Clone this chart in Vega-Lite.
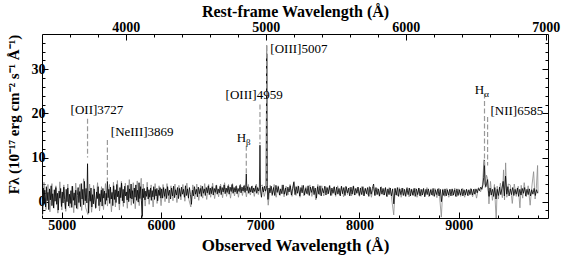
{
"$schema":"https://vega.github.io/schema/vega-lite/v6.json",
"width":506,"height":184,
"autosize":"none",
"padding":{"left":42,"top":34,"right":18,"bottom":39},
"config":{
 "view":{"stroke":"black","strokeWidth":1},
 "font":"Liberation Serif",
 "axis":{"domain":false,"grid":false,"tickColor":"black","tickWidth":1,"labelFont":"Liberation Serif","labelFontSize":14,"labelFontWeight":"bold","labelColor":"black","titleFont":"Liberation Serif","titleFontSize":17,"titleFontWeight":"bold","titleColor":"black","tickSize":-6,"labelPadding":3}
},
"datasets":{
"black":[
{"w":4800,"f":5.8},{"w":4806,"f":-2.8},{"w":4812,"f":3.1},{"w":4820,"f":-0.5},{"w":4828,"f":2.6},{"w":4836,"f":-1.2},{"w":4844,"f":3.4},{"w":4852,"f":0.2},{"w":4860,"f":2.1},{"w":4868,"f":-1.8},{"w":4876,"f":2.9},{"w":4884,"f":0.4},{"w":4892,"f":3.6},{"w":4900,"f":-0.9},{"w":4908,"f":1.8},{"w":4916,"f":-1.4},{"w":4924,"f":2.7},{"w":4932,"f":0.1},{"w":4940,"f":3.2},{"w":4948,"f":-0.6},{"w":4956,"f":1.9},{"w":4964,"f":-1.9},{"w":4972,"f":2.4},{"w":4980,"f":0.8},{"w":4988,"f":3.0},{"w":4996,"f":-1.1},
{"w":5004,"f":2.2},{"w":5012,"f":-0.3},{"w":5020,"f":3.3},{"w":5028,"f":0.5},{"w":5036,"f":-1.6},{"w":5044,"f":2.8},{"w":5052,"f":0.0},{"w":5060,"f":3.1},{"w":5068,"f":-1.0},{"w":5076,"f":1.7},{"w":5084,"f":-0.4},{"w":5092,"f":2.5},{"w":5100,"f":-1.3},{"w":5108,"f":3.5},{"w":5116,"f":0.3},{"w":5124,"f":2.0},{"w":5132,"f":-0.8},{"w":5140,"f":2.6},{"w":5148,"f":-1.5},{"w":5156,"f":1.4},{"w":5164,"f":3.2},{"w":5172,"f":-0.2},{"w":5180,"f":2.3},{"w":5188,"f":-1.1},{"w":5196,"f":4.1},{"w":5204,"f":0.6},{"w":5212,"f":2.8},{"w":5220,"f":-0.7},{"w":5228,"f":4.6},{"w":5236,"f":0.2},{"w":5244,"f":3.0},{"w":5252,"f":-0.3},{"w":5259,"f":8.6},{"w":5264,"f":1.0},{"w":5270,"f":-2.6},{"w":5278,"f":2.4},{"w":5286,"f":0.1},{"w":5294,"f":3.1},
{"w":5302,"f":-1.2},{"w":5310,"f":1.6},{"w":5318,"f":-0.5},{"w":5326,"f":2.9},{"w":5334,"f":0.4},{"w":5342,"f":-1.4},{"w":5350,"f":2.2},{"w":5358,"f":0.7},{"w":5366,"f":3.4},{"w":5374,"f":-0.9},{"w":5382,"f":1.8},{"w":5390,"f":0.0},{"w":5398,"f":2.6},{"w":5406,"f":-1.0},{"w":5414,"f":3.0},{"w":5422,"f":0.8},{"w":5430,"f":2.4},{"w":5438,"f":-0.6},{"w":5446,"f":1.9},{"w":5452,"f":0.3},{"w":5459,"f":4.6},{"w":5466,"f":0.9},{"w":5474,"f":2.8},{"w":5482,"f":-0.4},{"w":5490,"f":3.3},{"w":5498,"f":0.6},
{"w":5506,"f":2.1},{"w":5514,"f":-0.9},{"w":5522,"f":3.6},{"w":5530,"f":0.5},{"w":5538,"f":2.7},{"w":5546,"f":-0.2},{"w":5554,"f":3.9},{"w":5562,"f":1.1},{"w":5570,"f":2.4},{"w":5578,"f":-0.5},{"w":5586,"f":3.2},{"w":5594,"f":0.9},{"w":5602,"f":4.2},{"w":5610,"f":0.2},{"w":5618,"f":2.8},{"w":5626,"f":-0.3},{"w":5634,"f":3.5},{"w":5642,"f":1.3},{"w":5650,"f":2.2},{"w":5658,"f":0.4},{"w":5666,"f":3.7},{"w":5674,"f":0.0},{"w":5682,"f":2.9},{"w":5690,"f":0.8},{"w":5698,"f":4.0},
{"w":5706,"f":0.6},{"w":5714,"f":2.5},{"w":5722,"f":-0.4},{"w":5730,"f":3.1},{"w":5738,"f":1.0},{"w":5746,"f":3.8},{"w":5754,"f":0.3},{"w":5762,"f":2.6},{"w":5770,"f":-0.1},{"w":5778,"f":4.3},{"w":5786,"f":0.7},{"w":5794,"f":3.4},{"w":5802,"f":0.2},{"w":5810,"f":-3.3},{"w":5814,"f":2.9},{"w":5822,"f":0.9},{"w":5830,"f":3.0},{"w":5838,"f":0.4},{"w":5846,"f":2.4},{"w":5854,"f":1.2},{"w":5862,"f":3.3},{"w":5870,"f":0.6},{"w":5878,"f":2.7},{"w":5886,"f":1.0},{"w":5894,"f":3.1},
{"w":5902,"f":0.3},{"w":5910,"f":2.5},{"w":5918,"f":1.1},{"w":5926,"f":3.4},{"w":5934,"f":0.5},{"w":5942,"f":2.8},{"w":5950,"f":1.3},{"w":5958,"f":3.0},{"w":5966,"f":0.2},{"w":5974,"f":2.6},{"w":5982,"f":1.4},{"w":5990,"f":3.2},{"w":5998,"f":0.8},
{"w":6006,"f":2.9},{"w":6016,"f":0.8},{"w":6026,"f":3.2},{"w":6036,"f":1.2},{"w":6046,"f":2.9},{"w":6056,"f":0.7},{"w":6066,"f":3.4},{"w":6076,"f":1.4},{"w":6086,"f":2.6},{"w":6096,"f":0.6},{"w":6106,"f":3.1},{"w":6116,"f":1.3},{"w":6126,"f":3.5},{"w":6136,"f":0.9},{"w":6146,"f":2.7},{"w":6156,"f":1.5},{"w":6166,"f":3.2},{"w":6176,"f":0.7},{"w":6186,"f":3.0},{"w":6196,"f":1.2},{"w":6206,"f":3.3},{"w":6216,"f":1.7},{"w":6226,"f":2.8},{"w":6236,"f":1.0},{"w":6246,"f":3.6},{"w":6256,"f":1.4},{"w":6266,"f":2.9},{"w":6276,"f":0.8},{"w":6286,"f":3.2},{"w":6296,"f":1.6},
{"w":6306,"f":-0.6},{"w":6316,"f":2.6},{"w":6326,"f":1.3},{"w":6336,"f":3.4},{"w":6346,"f":1.7},{"w":6356,"f":2.8},{"w":6366,"f":1.1},{"w":6376,"f":3.3},{"w":6386,"f":1.8},{"w":6396,"f":3.0},{"w":6406,"f":1.2},{"w":6416,"f":3.5},{"w":6426,"f":1.9},{"w":6436,"f":2.9},{"w":6446,"f":1.4},{"w":6456,"f":3.2},{"w":6466,"f":2.0},{"w":6476,"f":3.6},{"w":6486,"f":1.6},{"w":6496,"f":3.1},
{"w":6506,"f":1.8},{"w":6516,"f":3.4},{"w":6526,"f":1.5},{"w":6536,"f":3.0},{"w":6546,"f":2.1},{"w":6556,"f":3.7},{"w":6566,"f":1.7},{"w":6576,"f":2.9},{"w":6586,"f":2.0},{"w":6596,"f":3.5},{"w":6606,"f":1.6},{"w":6616,"f":3.2},{"w":6626,"f":2.2},{"w":6636,"f":3.8},{"w":6646,"f":1.8},{"w":6656,"f":3.1},{"w":6666,"f":2.1},{"w":6676,"f":3.6},{"w":6686,"f":1.7},{"w":6696,"f":3.3},
{"w":6706,"f":2.3},{"w":6716,"f":3.9},{"w":6726,"f":1.9},{"w":6736,"f":3.2},{"w":6746,"f":2.2},{"w":6756,"f":3.5},{"w":6766,"f":1.8},{"w":6776,"f":3.0},{"w":6786,"f":2.3},{"w":6796,"f":3.7},{"w":6806,"f":2.0},{"w":6816,"f":3.3},{"w":6826,"f":2.4},{"w":6836,"f":3.6},{"w":6846,"f":2.1},{"w":6853,"f":3.2},{"w":6859,"f":6.3},{"w":6865,"f":2.5},{"w":6874,"f":3.4},{"w":6884,"f":1.9},{"w":6894,"f":3.2},
{"w":6904,"f":2.2},{"w":6914,"f":3.5},{"w":6924,"f":2.0},{"w":6934,"f":3.1},{"w":6944,"f":2.3},{"w":6954,"f":3.6},{"w":6964,"f":1.9},{"w":6974,"f":3.2},{"w":6984,"f":2.4},{"w":6991,"f":3.2},{"w":6997,"f":12.8},{"w":7003,"f":2.4},{"w":7012,"f":1.0},{"w":7022,"f":3.3},{"w":7032,"f":2.2},{"w":7042,"f":3.5},{"w":7052,"f":2.4},{"w":7059,"f":3.0},{"w":7065,"f":33.5},{"w":7071,"f":3.2},{"w":7078,"f":0.5},{"w":7088,"f":3.1},{"w":7098,"f":2.0},
{"w":7110,"f":3.5},{"w":7122,"f":1.6},{"w":7134,"f":3.2},{"w":7146,"f":1.4},{"w":7158,"f":3.7},{"w":7170,"f":2.1},{"w":7182,"f":3.4},{"w":7194,"f":1.5},{"w":7206,"f":2.9},{"w":7218,"f":1.8},{"w":7230,"f":3.8},{"w":7242,"f":1.7},{"w":7254,"f":3.1},{"w":7266,"f":1.4},{"w":7278,"f":3.3},{"w":7290,"f":2.2},{"w":7302,"f":3.6},{"w":7314,"f":1.5},{"w":7326,"f":3.0},{"w":7338,"f":4.4},{"w":7350,"f":1.6},{"w":7362,"f":3.4},{"w":7374,"f":1.9},{"w":7386,"f":3.5},{"w":7398,"f":1.3},
{"w":7410,"f":3.2},{"w":7422,"f":2.0},{"w":7434,"f":3.7},{"w":7446,"f":1.5},{"w":7458,"f":3.0},{"w":7470,"f":1.8},{"w":7482,"f":3.6},{"w":7494,"f":1.4},{"w":7506,"f":3.3},{"w":7518,"f":2.1},{"w":7530,"f":3.5},{"w":7542,"f":1.6},{"w":7554,"f":3.1},{"w":7566,"f":0.8},{"w":7578,"f":3.4},{"w":7590,"f":1.7},{"w":7602,"f":3.6},{"w":7614,"f":1.3},{"w":7626,"f":3.0},{"w":7638,"f":2.0},{"w":7650,"f":3.5},{"w":7662,"f":1.5},{"w":7674,"f":3.2},{"w":7686,"f":1.8},{"w":7698,"f":3.6},
{"w":7710,"f":1.4},{"w":7722,"f":3.1},{"w":7734,"f":1.9},{"w":7746,"f":3.4},{"w":7758,"f":1.5},{"w":7770,"f":3.3},{"w":7782,"f":1.7},{"w":7794,"f":3.0},{"w":7806,"f":1.3},{"w":7818,"f":3.5},{"w":7830,"f":1.8},{"w":7842,"f":3.2},{"w":7854,"f":1.4},{"w":7866,"f":3.4},{"w":7878,"f":2.0},{"w":7890,"f":3.1},{"w":7902,"f":1.3},{"w":7914,"f":3.3},{"w":7926,"f":1.7},{"w":7938,"f":3.5},{"w":7950,"f":1.5},{"w":7962,"f":3.0},{"w":7974,"f":1.9},{"w":7986,"f":3.3},{"w":7998,"f":1.4},
{"w":8010,"f":3.1},{"w":8022,"f":1.6},{"w":8034,"f":3.4},{"w":8046,"f":1.3},{"w":8058,"f":3.0},{"w":8070,"f":1.8},{"w":8082,"f":3.2},{"w":8094,"f":1.2},{"w":8106,"f":3.3},{"w":8118,"f":1.7},{"w":8130,"f":3.0},{"w":8142,"f":4.0},{"w":8154,"f":1.4},{"w":8166,"f":3.2},{"w":8178,"f":1.6},{"w":8190,"f":2.9},{"w":8202,"f":1.3},{"w":8214,"f":3.3},{"w":8226,"f":1.7},{"w":8238,"f":3.0},{"w":8250,"f":1.5},{"w":8262,"f":3.2},{"w":8274,"f":1.2},{"w":8286,"f":2.9},{"w":8298,"f":1.6},
{"w":8310,"f":3.1},{"w":8322,"f":1.3},{"w":8334,"f":2.9},{"w":8346,"f":-0.5},{"w":8358,"f":3.0},{"w":8370,"f":1.5},{"w":8382,"f":3.2},{"w":8394,"f":1.2},{"w":8406,"f":2.9},{"w":8418,"f":1.6},{"w":8430,"f":3.1},{"w":8442,"f":1.4},{"w":8454,"f":2.8},{"w":8466,"f":1.2},{"w":8478,"f":3.0},{"w":8490,"f":1.6},{"w":8502,"f":3.1},{"w":8514,"f":1.3},{"w":8526,"f":2.8},{"w":8538,"f":1.5},{"w":8550,"f":3.0},{"w":8562,"f":1.2},{"w":8574,"f":2.9},{"w":8586,"f":1.6},{"w":8598,"f":3.1},
{"w":8610,"f":1.3},{"w":8622,"f":2.8},{"w":8634,"f":1.5},{"w":8646,"f":3.0},{"w":8658,"f":1.1},{"w":8670,"f":2.8},{"w":8682,"f":1.6},{"w":8694,"f":2.9},{"w":8706,"f":1.3},{"w":8718,"f":2.7},{"w":8730,"f":1.5},{"w":8742,"f":3.0},{"w":8754,"f":1.2},{"w":8766,"f":2.7},{"w":8778,"f":1.6},{"w":8790,"f":2.9},{"w":8802,"f":1.3},{"w":8814,"f":2.8},{"w":8826,"f":0.0},{"w":8838,"f":2.7},{"w":8850,"f":1.4},{"w":8862,"f":2.9},{"w":8874,"f":1.3},{"w":8886,"f":2.7},{"w":8898,"f":1.5},
{"w":8910,"f":2.8},{"w":8922,"f":1.3},{"w":8934,"f":2.9},{"w":8946,"f":1.5},{"w":8958,"f":2.7},{"w":8970,"f":1.2},{"w":8982,"f":2.9},{"w":8994,"f":1.4},{"w":9006,"f":2.7},{"w":9018,"f":1.5},{"w":9030,"f":2.9},{"w":9042,"f":1.3},{"w":9054,"f":2.7},{"w":9066,"f":1.5},{"w":9078,"f":2.8},{"w":9090,"f":1.4},{"w":9102,"f":2.7},{"w":9114,"f":1.6},{"w":9126,"f":2.9},{"w":9138,"f":1.5},{"w":9150,"f":2.8},{"w":9162,"f":1.7},{"w":9174,"f":2.9},{"w":9186,"f":2.0},{"w":9198,"f":3.0},
{"w":9210,"f":2.5},{"w":9222,"f":3.3},{"w":9234,"f":2.8},{"w":9244,"f":3.8},{"w":9252,"f":5.5},{"w":9260,"f":9.3},{"w":9266,"f":4.0},{"w":9274,"f":3.4},{"w":9282,"f":4.2},{"w":9291,"f":5.0},{"w":9298,"f":2.6},{"w":9306,"f":1.2},{"w":9316,"f":3.1},{"w":9328,"f":1.5},{"w":9340,"f":2.8},{"w":9352,"f":1.2},{"w":9364,"f":3.2},{"w":9376,"f":0.6},{"w":9388,"f":2.8},{"w":9400,"f":1.4},{"w":9412,"f":3.3},{"w":9424,"f":1.6},{"w":9436,"f":3.0},{"w":9448,"f":4.6},{"w":9460,"f":1.3},{"w":9472,"f":5.8},{"w":9484,"f":1.7},{"w":9496,"f":3.4},
{"w":9508,"f":1.3},{"w":9520,"f":2.9},{"w":9532,"f":1.6},{"w":9544,"f":3.2},{"w":9556,"f":1.4},{"w":9568,"f":2.8},{"w":9580,"f":1.7},{"w":9592,"f":3.1},{"w":9604,"f":1.2},{"w":9616,"f":2.8},{"w":9628,"f":1.5},{"w":9640,"f":3.0},{"w":9652,"f":1.9},{"w":9664,"f":3.2},{"w":9676,"f":1.3},{"w":9688,"f":2.8},{"w":9700,"f":1.6},{"w":9712,"f":2.9},{"w":9724,"f":1.3},{"w":9736,"f":2.7},{"w":9748,"f":1.7},{"w":9760,"f":3.0},{"w":9772,"f":1.4},{"w":9784,"f":2.7},{"w":9796,"f":1.9}
],
"gray":[
{"w":4800,"f":2.0},{"w":4804,"f":-3.2},{"w":4820,"f":4.4},{"w":4840,"f":-1.8},{"w":4860,"f":3.9},{"w":4880,"f":-2.3},{"w":4900,"f":4.1},{"w":4920,"f":-1.5},{"w":4940,"f":3.6},{"w":4960,"f":-2.6},{"w":4980,"f":4.5},{"w":5000,"f":-1.9},{"w":5020,"f":3.8},{"w":5040,"f":-2.2},{"w":5060,"f":4.0},{"w":5080,"f":-1.4},{"w":5100,"f":3.5},{"w":5120,"f":-2.5},{"w":5140,"f":4.2},{"w":5160,"f":-1.7},{"w":5180,"f":3.9},{"w":5200,"f":-2.0},{"w":5220,"f":5.2},{"w":5240,"f":-1.3},{"w":5262,"f":-2.9},{"w":5280,"f":4.0},
{"w":5300,"f":-2.4},{"w":5320,"f":3.7},{"w":5340,"f":-1.6},{"w":5360,"f":4.3},{"w":5380,"f":-2.1},{"w":5400,"f":3.4},{"w":5420,"f":-1.8},{"w":5440,"f":4.1},{"w":5460,"f":-1.0},{"w":5480,"f":3.9},{"w":5500,"f":-2.3},{"w":5520,"f":4.4},{"w":5540,"f":-1.2},{"w":5560,"f":4.8},{"w":5580,"f":-1.9},{"w":5600,"f":4.6},{"w":5620,"f":-1.1},{"w":5640,"f":4.2},{"w":5660,"f":-1.5},{"w":5680,"f":5.0},{"w":5700,"f":-0.8},{"w":5720,"f":4.3},{"w":5740,"f":-1.6},{"w":5760,"f":4.7},{"w":5780,"f":-0.9},{"w":5800,"f":5.3},{"w":5812,"f":-3.6},{"w":5820,"f":4.0},{"w":5840,"f":-1.0},{"w":5860,"f":4.4},{"w":5880,"f":-0.6},{"w":5900,"f":3.8},{"w":5920,"f":-1.2},{"w":5940,"f":4.1},{"w":5960,"f":-0.4},{"w":5980,"f":3.6},{"w":6000,"f":-0.9},
{"w":6020,"f":3.9},{"w":6040,"f":0.0},{"w":6060,"f":4.1},{"w":6080,"f":-0.3},{"w":6100,"f":3.6},{"w":6120,"f":0.2},{"w":6140,"f":4.0},{"w":6160,"f":-0.2},{"w":6180,"f":3.7},{"w":6200,"f":0.4},{"w":6220,"f":3.9},{"w":6240,"f":0.1},{"w":6260,"f":4.2},{"w":6280,"f":0.5},{"w":6300,"f":-1.2},{"w":6320,"f":3.8},{"w":6340,"f":0.6},{"w":6360,"f":4.0},{"w":6380,"f":0.3},{"w":6400,"f":3.7},{"w":6420,"f":0.8},{"w":6440,"f":4.1},{"w":6460,"f":0.5},{"w":6480,"f":3.9},{"w":6500,"f":1.0},{"w":6520,"f":4.2},{"w":6540,"f":0.7},{"w":6560,"f":3.8},{"w":6580,"f":1.1},{"w":6600,"f":4.0},{"w":6620,"f":0.9},{"w":6640,"f":4.3},{"w":6660,"f":1.2},{"w":6680,"f":3.9},{"w":6700,"f":0.8},{"w":6720,"f":4.1},{"w":6740,"f":1.3},{"w":6760,"f":3.7},{"w":6780,"f":1.0},{"w":6800,"f":4.0},{"w":6820,"f":1.4},{"w":6840,"f":3.8},{"w":6860,"f":1.1},{"w":6880,"f":3.9},{"w":6900,"f":1.5},{"w":6920,"f":3.6},{"w":6940,"f":1.2},{"w":6960,"f":4.0},{"w":6980,"f":1.6},{"w":7000,"f":3.4},
{"w":7020,"f":3.8},{"w":7040,"f":1.2},{"w":7060,"f":3.0},{"w":7065,"f":35.5},{"w":7070,"f":2.5},{"w":7080,"f":-0.8},{"w":7100,"f":3.7},{"w":7120,"f":1.3},{"w":7140,"f":3.9},{"w":7160,"f":1.0},{"w":7180,"f":3.6},{"w":7200,"f":1.4},{"w":7220,"f":3.8},{"w":7240,"f":1.1},{"w":7260,"f":3.5},{"w":7280,"f":1.5},{"w":7300,"f":3.9},{"w":7320,"f":1.2},{"w":7340,"f":4.6},{"w":7360,"f":1.4},{"w":7380,"f":3.6},{"w":7400,"f":1.0},{"w":7420,"f":3.7},{"w":7440,"f":1.3},{"w":7460,"f":3.4},{"w":7480,"f":1.6},{"w":7500,"f":3.8},{"w":7520,"f":1.2},{"w":7540,"f":3.5},{"w":7560,"f":0.4},{"w":7580,"f":3.9},{"w":7600,"f":1.5},{"w":7620,"f":3.6},{"w":7640,"f":1.3},{"w":7660,"f":3.4},{"w":7680,"f":1.7},{"w":7700,"f":3.7},{"w":7720,"f":1.4},{"w":7740,"f":3.3},{"w":7760,"f":1.2},{"w":7780,"f":3.6},{"w":7800,"f":1.5},{"w":7820,"f":3.4},{"w":7840,"f":1.1},{"w":7860,"f":3.5},{"w":7880,"f":1.6},{"w":7900,"f":3.2},{"w":7920,"f":1.3},{"w":7940,"f":3.6},{"w":7960,"f":1.5},{"w":7980,"f":3.3},
{"w":8000,"f":1.2},{"w":8020,"f":3.4},{"w":8040,"f":1.4},{"w":8060,"f":3.1},{"w":8080,"f":1.6},{"w":8100,"f":3.5},{"w":8120,"f":1.0},{"w":8140,"f":3.3},{"w":8160,"f":1.4},{"w":8180,"f":3.0},{"w":8200,"f":1.2},{"w":8220,"f":3.4},{"w":8240,"f":1.5},{"w":8260,"f":3.1},{"w":8280,"f":1.1},{"w":8300,"f":3.2},{"w":8320,"f":1.4},{"w":8345,"f":-3.0},{"w":8360,"f":3.0},{"w":8380,"f":1.3},{"w":8400,"f":3.2},{"w":8420,"f":1.0},{"w":8440,"f":3.0},{"w":8460,"f":1.4},{"w":8480,"f":3.3},{"w":8500,"f":1.1},{"w":8520,"f":2.9},{"w":8540,"f":1.3},{"w":8560,"f":3.1},{"w":8580,"f":1.0},{"w":8600,"f":3.0},{"w":8620,"f":1.2},{"w":8640,"f":2.8},{"w":8660,"f":1.4},{"w":8680,"f":3.2},{"w":8700,"f":1.1},{"w":8720,"f":2.9},{"w":8740,"f":1.3},{"w":8760,"f":3.0},{"w":8780,"f":0.9},{"w":8800,"f":3.1},{"w":8825,"f":-3.5},{"w":8840,"f":2.9},{"w":8860,"f":1.2},{"w":8880,"f":3.0},{"w":8900,"f":1.0},{"w":8920,"f":2.8},{"w":8940,"f":1.3},{"w":8960,"f":3.1},{"w":8980,"f":1.1},
{"w":9000,"f":2.9},{"w":9020,"f":1.2},{"w":9040,"f":3.0},{"w":9060,"f":1.0},{"w":9080,"f":2.8},{"w":9100,"f":1.3},{"w":9120,"f":3.0},{"w":9140,"f":1.1},{"w":9160,"f":2.9},{"w":9180,"f":0.8},{"w":9200,"f":3.2},{"w":9220,"f":2.2},{"w":9240,"f":3.8},{"w":9255,"f":9.5},{"w":9268,"f":3.2},{"w":9280,"f":6.0},{"w":9291,"f":5.2},{"w":9305,"f":-0.5},{"w":9320,"f":4.6},{"w":9340,"f":0.3},{"w":9360,"f":3.9},{"w":9378,"f":-4.5},{"w":9388,"f":3.5},{"w":9400,"f":0.6},{"w":9420,"f":4.2},{"w":9440,"f":0.9},{"w":9452,"f":7.2},{"w":9462,"f":0.4},{"w":9473,"f":8.8},{"w":9485,"f":1.0},{"w":9500,"f":4.0},{"w":9520,"f":3.8},{"w":9540,"f":-0.4},{"w":9560,"f":4.0},{"w":9580,"f":1.2},{"w":9600,"f":3.5},{"w":9617,"f":-1.4},{"w":9630,"f":3.7},{"w":9645,"f":0.8},{"w":9660,"f":4.3},{"w":9680,"f":1.1},{"w":9700,"f":3.6},{"w":9720,"f":-0.8},{"w":9740,"f":4.0},{"w":9755,"f":6.8},{"w":9770,"f":0.6},{"w":9782,"f":3.0},{"w":9795,"f":8.2},{"w":9800,"f":2.0}
],
"lines":[
{"w":5259,"top":18.8,"bot":10},{"w":5459,"top":14,"bot":4.8},{"w":6859,"top":12.7,"bot":6.4},{"w":6997,"top":22,"bot":13},{"w":7065,"top":35.3,"bot":3},{"w":9260,"top":24.5,"bot":8.2},{"w":9291,"top":19.2,"bot":8.2}
],
"labels":[
{"x":5354,"y":20.8,"t":"[OII]3727"},{"x":5810,"y":15.7,"t":"[NeIII]3869"},{"x":6938,"y":24.1,"t":"[OIII]4959"},{"x":7389,"y":34.7,"t":"[OIII]5007"},{"x":9586,"y":20.5,"t":"[NII]6585"}
],
"hlabels":[
{"x":6857,"y":14.5,"m":"H","s":"β"},{"x":9257,"y":25.2,"m":"H","s":"α"}
]
},
"layer":[
 {"layer":[
  {"data":{"name":"gray"},"mark":{"type":"line","color":"#8a8a8a","strokeWidth":0.8,"clip":true},
   "encoding":{"x":{"field":"w","type":"quantitative","scale":{"domain":[4800,9900],"nice":false,"zero":false},
     "axis":{"orient":"bottom","values":[5000,6000,7000,8000,9000],"format":"d","labelFont":"Liberation Serif","labelFontWeight":"bold","labelPadding":6,"title":"Observed Wavelength (Å)","titleBaseline":"middle","titleY":27}},
    "y":{"field":"f","type":"quantitative","scale":{"domain":[-3.7,38],"nice":false,"zero":false},
     "axis":{"orient":"left","values":[0,10,20,30],"format":"d","labelFont":"Liberation Serif","labelFontWeight":"bold","title":"Fλ (10⁻¹⁷ erg cm⁻² s⁻¹ Å⁻¹)","titleFontSize":15,"titleAngle":-90,"titleBaseline":"middle","titleY":80,"titleX":-29}}}},
  {"data":{"name":"black"},"mark":{"type":"line","color":"black","strokeWidth":0.8,"clip":true},
   "encoding":{"x":{"field":"w","type":"quantitative"},"y":{"field":"f","type":"quantitative"}}},
  {"data":{"name":"lines"},"mark":{"type":"rule","color":"#999999","strokeDash":[5,2.5],"strokeWidth":1.2},
   "encoding":{"x":{"field":"w","type":"quantitative"},"y":{"field":"top","type":"quantitative"},"y2":{"field":"bot"}}},
  {"data":{"name":"labels"},"mark":{"type":"text","font":"Liberation Serif","fontSize":13,"align":"center","baseline":"middle","color":"black"},
   "encoding":{"x":{"field":"x","type":"quantitative"},"y":{"field":"y","type":"quantitative"},"text":{"field":"t"}}},
  {"data":{"name":"hlabels"},"mark":{"type":"text","font":"Liberation Serif","fontSize":13,"align":"right","baseline":"middle","color":"black"},
   "encoding":{"x":{"field":"x","type":"quantitative"},"y":{"field":"y","type":"quantitative"},"text":{"field":"m"}}},
  {"data":{"name":"hlabels"},"mark":{"type":"text","font":"Liberation Serif","fontSize":9,"align":"left","baseline":"middle","dy":4,"color":"black"},
   "encoding":{"x":{"field":"x","type":"quantitative"},"y":{"field":"y","type":"quantitative"},"text":{"field":"s"}}}
 ]},
 {"data":{"values":[{"r":5000,"v":0}]},"mark":{"type":"point","opacity":0},
  "encoding":{"x":{"field":"r","type":"quantitative","scale":{"domain":[3401.8,7016.3],"nice":false,"zero":false},
    "axis":{"orient":"top","values":[4000,5000,6000,7000],"format":"d","labelFont":"Liberation Serif","labelFontWeight":"bold","labelPadding":6,"title":"Rest-frame Wavelength (Å)","titleFontSize":16,"titleBaseline":"middle","titleY":-23}},
   "y":{"field":"v","type":"quantitative","scale":{"domain":[-3.7,38],"nice":false,"zero":false},
    "axis":{"orient":"right","values":[0,10,20,30],"labels":false,"title":null}}}},
 {"data":{"values":[{"r":5000,"v":0}]},"mark":{"type":"point","opacity":0},
  "encoding":{"x":{"field":"r","type":"quantitative","scale":{"domain":[4800,9900],"nice":false,"zero":false},
    "axis":{"orient":"bottom","values":[5200,5400,5600,5800,6200,6400,6600,6800,7200,7400,7600,7800,8200,8400,8600,8800,9200,9400,9600,9800],"labels":false,"title":null,"tickSize":-3}},
   "y":{"field":"v","type":"quantitative","scale":{"domain":[-3.7,38],"nice":false,"zero":false},
    "axis":{"orient":"left","values":[-2,2,4,6,8,12,14,16,18,22,24,26,28,32,34,36],"labels":false,"title":null,"tickSize":-3}}}},
 {"data":{"values":[{"r":5000,"v":0}]},"mark":{"type":"point","opacity":0},
  "encoding":{"x":{"field":"r","type":"quantitative","scale":{"domain":[3401.8,7016.3],"nice":false,"zero":false},
    "axis":{"orient":"top","values":[3600,3800,4200,4400,4600,4800,5200,5400,5600,5800,6200,6400,6600,6800],"labels":false,"title":null,"tickSize":-3}},
   "y":{"field":"v","type":"quantitative","scale":{"domain":[-3.7,38],"nice":false,"zero":false},
    "axis":{"orient":"right","values":[-2,2,4,6,8,12,14,16,18,22,24,26,28,32,34,36],"labels":false,"title":null,"tickSize":-3}}}}
],
"resolve":{"scale":{"x":"independent","y":"independent"}}
}
